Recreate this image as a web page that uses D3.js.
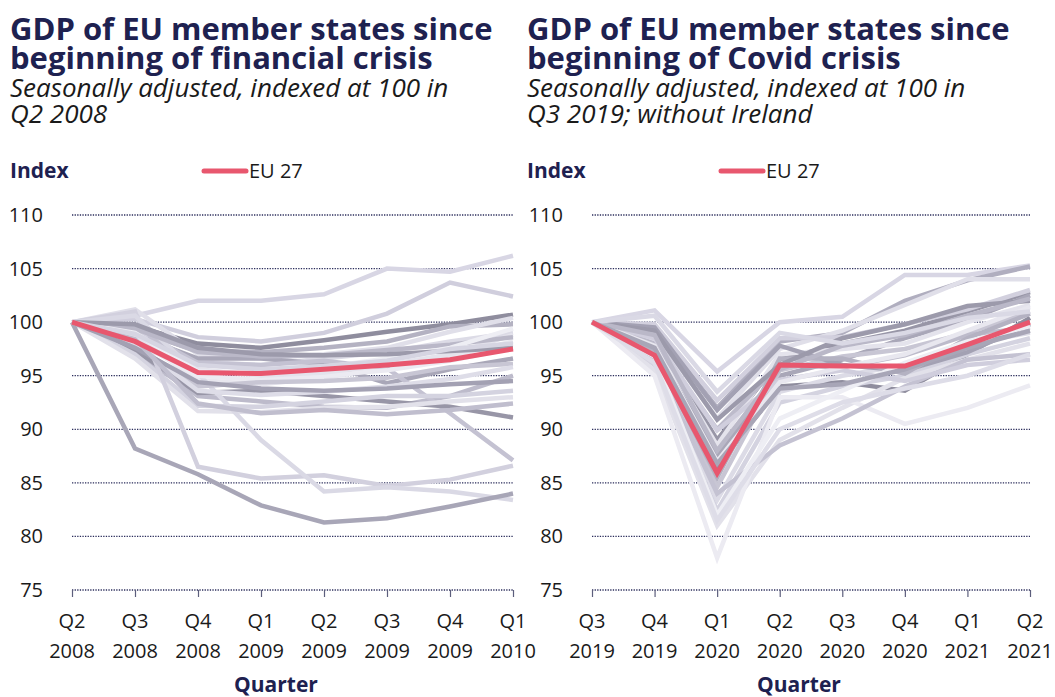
<!DOCTYPE html>
<html>
<head>
<meta charset="utf-8">
<script src="https://cdn.jsdelivr.net/npm/d3@7"></script>
<style>
  body { margin: 0; background: #fff; }
  svg { font-family: "Open Sans", sans-serif; }
</style>
</head>
<body>
<div id="chart"></div>
<script>
// data
const yTicks = [75, 80, 85, 90, 95, 100, 105, 110];

const crisisQuarters = ["Q2 2008","Q3 2008","Q4 2008","Q1 2009","Q2 2009","Q3 2009","Q4 2009","Q1 2010"];
const crisisEU = [100, 98.2, 95.3, 95.2, 95.6, 96.0, 96.5, 97.5];
const crisisCountries = [
  [100, 100.6, 102.0, 102.0, 102.6, 105.0, 104.7, 106.2],
  [100, 100.3, 98.6, 98.2, 99.0, 100.8, 103.7, 102.4],
  [100, 99.6, 98.0, 97.6, 98.3, 99.1, 99.8, 100.7],
  [100, 99.2, 97.3, 97.2, 97.6, 98.2, 99.6, 99.8],
  [100, 101.2, 97.0, 96.6, 97.0, 97.6, 99.1, 100.4],
  [100, 99.0, 96.3, 96.0, 96.6, 97.2, 98.2, 99.0],
  [100, 98.6, 94.6, 94.2, 94.8, 95.7, 96.8, 98.2],
  [100, 98.8, 96.6, 96.6, 96.1, 94.3, 95.6, 96.6],
  [100, 97.2, 93.1, 92.6, 92.1, 92.0, 93.1, 95.0],
  [100, 99.4, 96.2, 96.0, 96.4, 95.7, 91.5, 87.1],
  [100, 97.4, 93.4, 93.6, 93.1, 92.6, 92.1, 91.1],
  [100, 97.0, 92.2, 92.1, 92.6, 93.1, 93.1, 93.6],
  [100, 96.6, 91.7, 91.6, 92.0, 92.1, 92.6, 93.0],
  [100, 101.0, 86.5, 85.4, 85.7, 84.7, 85.3, 86.6],
  [100, 100.6, 95.2, 89.0, 84.2, 84.6, 84.2, 83.4],
  [100, 88.2, 85.8, 82.9, 81.3, 81.7, 82.8, 84.0],
  [100, 98.2, 95.0, 94.6, 95.0, 95.5, 96.4, 97.6],
  [100, 98.5, 95.6, 95.0, 95.3, 96.0, 97.0, 98.8],
  [100, 97.8, 94.0, 94.4, 94.5, 94.8, 95.8, 96.1],
  [100, 99.4, 97.2, 96.8, 96.9, 97.4, 97.9, 98.6],
  [100, 98.0, 93.6, 93.2, 93.5, 94.0, 94.7, 95.8],
  [100, 97.6, 94.4, 93.8, 93.6, 93.8, 94.2, 94.5],
  [100, 99.0, 95.4, 95.2, 95.8, 96.6, 97.6, 99.4],
  [100, 98.4, 92.4, 91.5, 91.8, 91.4, 91.8, 92.4],
  [100, 99.8, 97.6, 97.0, 96.9, 97.0, 97.3, 97.6],
  [100, 98.9, 96.0, 95.6, 95.9, 96.4, 97.5, 98.0]
];

const covidQuarters = ["Q3 2019","Q4 2019","Q1 2020","Q2 2020","Q3 2020","Q4 2020","Q1 2021","Q2 2021"];
const covidEU = [100, 96.9, 85.9, 96.0, 95.9, 95.9, 97.9, 100.0];
const covidCountries = [
  [100, 101.1, 95.4, 100.0, 100.5, 104.4, 104.4, 105.3],
  [100, 99.4, 92.0, 98.2, 99.0, 102.0, 103.9, 105.2],
  [100, 99.0, 91.0, 97.5, 99.2, 101.6, 104.0, 104.0],
  [100, 98.6, 89.0, 96.5, 98.0, 99.2, 101.0, 102.8],
  [100, 99.8, 92.7, 98.5, 98.6, 99.8, 101.2, 103.0],
  [100, 97.8, 87.5, 95.0, 96.5, 98.5, 100.2, 102.5],
  [100, 98.2, 88.5, 97.0, 97.5, 98.0, 100.0, 101.6],
  [100, 97.5, 86.5, 94.0, 94.4, 93.6, 97.0, 100.4],
  [100, 96.5, 84.6, 95.5, 96.8, 97.5, 99.0, 101.0],
  [100, 98.0, 90.0, 96.0, 95.8, 96.9, 98.8, 99.5],
  [100, 97.0, 83.4, 93.5, 95.0, 96.0, 98.0, 99.0],
  [100, 96.0, 82.4, 92.5, 94.0, 95.0, 97.0, 98.5],
  [100, 95.5, 81.0, 89.0, 92.0, 94.8, 96.5, 98.0],
  [100, 99.5, 91.8, 97.8, 96.0, 95.5, 97.2, 99.8],
  [100, 95.0, 78.0, 93.0, 93.0, 90.5, 92.0, 94.1],
  [100, 96.5, 84.0, 88.5, 91.0, 94.0, 96.5, 97.0],
  [100, 98.5, 89.9, 94.6, 95.5, 94.5, 96.0, 96.5],
  [100, 97.2, 85.5, 96.6, 96.6, 95.2, 98.5, 100.8],
  [100, 99.2, 90.9, 96.0, 98.5, 99.8, 101.5, 102.0],
  [100, 97.8, 87.0, 94.4, 95.8, 97.0, 99.2, 101.4],
  [100, 96.8, 82.0, 91.0, 93.6, 96.2, 98.2, 99.6],
  [100, 98.8, 88.0, 95.6, 97.8, 98.8, 100.6, 102.2],
  [100, 100.6, 93.5, 99.0, 98.0, 99.0, 100.4, 101.0],
  [100, 97.6, 86.8, 93.8, 94.2, 95.6, 97.6, 99.2],
  [100, 96.2, 81.5, 90.0, 92.5, 93.8, 95.0, 97.0]
];

// styling
const navy = "#1e2150";
const euRed = "#e8576e";
const crisisGreys = ["#d8d6e4","#d0cedd","#8f8d9e","#b4b2c2","#e0dfe9","#dcdbe6","#e8e7ef","#a9a7b8",
  "#bdbbcb","#c4c2d2","#9896a7","#d4d3e0","#e2e1ea","#d2d0de","#dad9e5","#a8a6b7","#ecebf2",
  "#e4e3ec","#c8c6d4","#bab8c8","#dedde8","#a3a1b3","#eeeef4","#c0bece","#9c9aab","#d6d5e2"];
const covidGreys = ["#d8d6e4","#b0aebf","#e0dfe9","#9896a7","#d2d0de","#a9a7b8","#e4e3ec","#8f8d9e",
  "#c8c6d4","#bdbbcb","#dcdbe6","#d4d3e0","#e2e1ea","#a3a1b3","#ecebf2","#c4c2d2","#d0cedd",
  "#b4b2c2","#9c9aab","#e8e7ef","#eeeef4","#bab8c8","#dad9e5","#a8a6b7","#dedde8"];

const svg = d3.select("#chart").append("svg")
  .attr("width", 1055)
  .attr("height", 697);

function drawPanel(opt){
  let g = svg.append("g");
  let x = d3.scalePoint().domain(opt.quarters).range([opt.x0, opt.x1]);
  let y = d3.scaleLinear().domain([75, 110]).range([590, 215]);

  // titles
  opt.title.forEach((t, i)=>{
    g.append("text").text(t)
      .attr("x", opt.tx).attr("y", 40 + i*29)
      .style("font-size", "31px").style("font-weight", 700).style("fill", navy);
  });
  opt.subtitle.forEach((t, i)=>{
    g.append("text").text(t)
      .attr("x", opt.tx).attr("y", 97 + i*26)
      .style("font-size", "26px").style("font-style", "italic").style("fill", "#1a1a1a");
  });
  g.append("text").text("Index")
    .attr("x", opt.tx).attr("y", 178)
    .style("font-size", "21px").style("font-weight", 700).style("fill", navy);
  g.append("line")
    .attr("x1", opt.tx + 194).attr("x2", opt.tx + 236)
    .attr("y1", 171).attr("y2", 171)
    .style("stroke", euRed).style("stroke-width", 5).style("stroke-linecap", "round");
  g.append("text").text("EU 27")
    .attr("x", opt.tx + 239).attr("y", 178)
    .style("font-size", "20px").style("fill", "#1a1a1a");

  // grid
  yTicks.forEach(v=>{
    g.append("line")
      .attr("x1", opt.x0).attr("x2", opt.x1)
      .attr("y1", y(v)).attr("y2", y(v))
      .style("stroke", "#2c2e5c").style("stroke-width", 1.3)
      .style("stroke-dasharray", "1.3,1.3");
    g.append("text").text(v)
      .attr("x", opt.x0 - 29).attr("y", y(v) + 7)
      .attr("text-anchor", "end")
      .style("font-size", "20px").style("fill", "#1a1a1a");
  });

  // x axis ticks
  let xAxis = g.append("g")
    .attr("transform", "translate(0,590)")
    .call(d3.axisBottom(x).tickSize(7).tickFormat(""));
  xAxis.select(".domain").remove();
  xAxis.selectAll(".tick line").style("stroke", "#5c5e7c").style("stroke-width", 1.2);

  opt.quarters.forEach(q=>{
    let parts = q.split(" ");
    let t = g.append("text")
      .attr("text-anchor", "middle")
      .style("font-size", "20px").style("fill", "#1a1a1a");
    t.append("tspan").text(parts[0]).attr("x", x(q)).attr("y", 628);
    t.append("tspan").text(parts[1]).attr("x", x(q)).attr("y", 658);
  });
  g.append("text").text("Quarter")
    .attr("x", opt.qx).attr("y", 692)
    .attr("text-anchor", "middle")
    .style("font-size", "21px").style("font-weight", 700).style("fill", navy);

  // lines
  let line = d3.line()
    .x((d, i)=>x(opt.quarters[i]))
    .y(d=>y(d));
  opt.countries.forEach((c, i)=>{
    g.append("path")
      .attr("d", line(c))
      .style("fill", "none")
      .style("stroke", opt.greys[i % opt.greys.length])
      .style("stroke-width", 4.5);
  });
  g.append("path")
    .attr("d", line(opt.eu))
    .style("fill", "none")
    .style("stroke", euRed)
    .style("stroke-width", 5);
}

drawPanel({
  quarters: crisisQuarters, eu: crisisEU, countries: crisisCountries, greys: crisisGreys,
  x0: 72, x1: 513, tx: 10, qx: 276,
  title: ["GDP of EU member states since", "beginning of financial crisis"],
  subtitle: ["Seasonally adjusted, indexed at 100 in", "Q2 2008"]
});
drawPanel({
  quarters: covidQuarters, eu: covidEU, countries: covidCountries, greys: covidGreys,
  x0: 592, x1: 1030, tx: 527, qx: 799,
  title: ["GDP of EU member states since", "beginning of Covid crisis"],
  subtitle: ["Seasonally adjusted, indexed at 100 in", "Q3 2019; without Ireland"]
});
</script>
</body>
</html>
